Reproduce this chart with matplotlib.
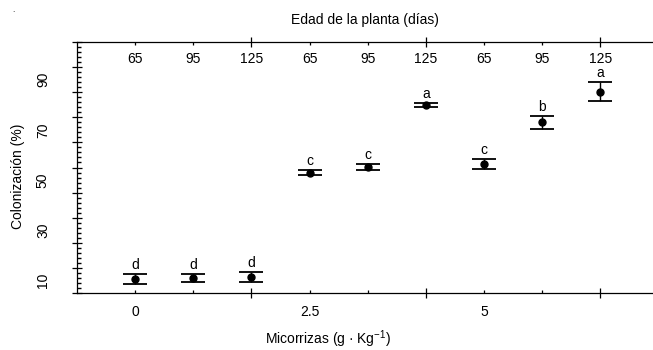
import numpy as np
import matplotlib.pyplot as plt
from matplotlib.ticker import FixedLocator

plt.rcParams["font.family"] = ["Liberation Sans", "DejaVu Sans"]
plt.rcParams["mathtext.fontset"] = "custom"
plt.rcParams["mathtext.rm"] = "Liberation Sans"
plt.rcParams["mathtext.it"] = "Liberation Sans"

# datos
posicion = [1, 2, 3, 4, 5, 6, 7, 8, 9]
edad = ["65", "95", "125", "65", "95", "125", "65", "95", "125"]
dosis = ["0", "2.5", "5"]
dosis_pos = [1, 4, 7]
media = [10.5, 10.9, 11.4, 52.9, 55.2, 79.9, 56.4, 73.0, 85.2]
error = [2.1, 1.6, 2.1, 1.0, 1.2, 0.9, 2.0, 2.7, 3.8]
letras = ["d", "d", "d", "c", "c", "a", "c", "b", "a"]

fig = plt.figure(figsize=(6.53, 3.5), dpi=100)
ax = fig.add_axes([77/653, 1-293/350, 10*58.16/653, 251/350])

ax.errorbar(posicion, media, yerr=error, fmt="o", color="black", ms=5,
            elinewidth=1.0, capsize=8.5, capthick=1.3)
for x, y, e, l in zip(posicion, media, error, letras):
    ax.annotate(l, (x, y + e), xytext=(0, 6.5), textcoords="offset points",
                ha="center", va="center", fontsize=10)

ax.set_xlim(0, 10)
ax.set_ylim(5, 105)

ax.spines["right"].set_visible(False)
for s in ["left", "bottom", "top"]:
    ax.spines[s].set_linewidth(0.9)

# eje x
ax.xaxis.set_major_locator(FixedLocator([3, 6, 9]))
ax.set_xticklabels([])
minx = [p for p in posicion if p % 3 != 0]
ax.set_xticks(minx, minor=True)
ax.set_xticklabels([dosis[dosis_pos.index(p)] if p in dosis_pos else "" for p in minx],
                   minor=True)
ax.tick_params(axis="x", which="major", direction="inout", length=7, width=0.9,
               top=True)
ax.tick_params(axis="x", which="minor", direction="in", length=2.5, width=0.9,
               top=True, labelsize=10, pad=9)

# eje y
ax.set_yticks(np.arange(5, 106, 10))
ax.set_yticks([v for v in range(5, 106) if (v - 5) % 2 == 0 and (v - 5) % 10 != 0],
              minor=True)
ax.tick_params(axis="y", which="major", direction="inout", length=7, width=0.9,
               labelleft=False)
ax.tick_params(axis="y", which="minor", direction="in", length=3, width=1.0)
sec = ax.secondary_yaxis("left")
sec.spines["left"].set_visible(False)
sec.set_yticks([10, 30, 50, 70, 90])
sec.tick_params(length=0, pad=19.5, labelsize=10)
for t in sec.get_yticklabels():
    t.set_rotation(90)
    t.set_va("center")

# etiquetas superiores (edad)
for x, t in zip(posicion, edad):
    ax.text(x, 1 - 17/251, t, transform=ax.get_xaxis_transform(),
            ha="center", va="center", fontsize=10)

fig.text(365/653, 1 - 20/350, "Edad de la planta (días)", ha="center",
         va="center", fontsize=10)
fig.text(328/653, 1 - 339/350, "Micorrizas (g · Kg$^{-1}$)", ha="center",
         va="center", fontsize=10)
fig.text(18/653, 1 - 176/350, "Colonización (%)", rotation=90, ha="center",
         va="center", fontsize=10)
fig.text(13/653, 1 - 10/350, ".", ha="center", va="center", fontsize=6)

fig.savefig("out.png", dpi=100)
